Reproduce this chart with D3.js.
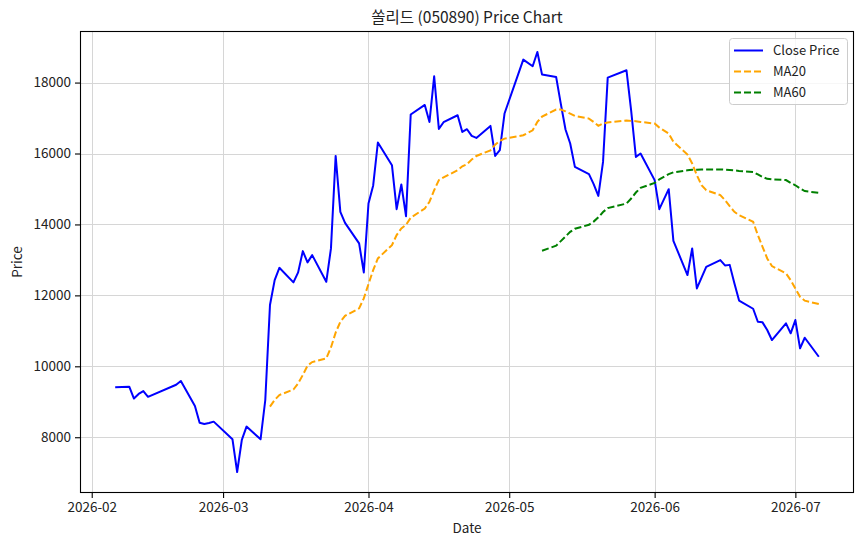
<!DOCTYPE html>
<meta charset="utf-8">
<style>
body { margin: 0; background: white; }
text { font-family: "Noto Sans CJK KR", "Noto Sans", sans-serif; fill: #222; }
.grid line { stroke: #d6d6d6; stroke-width: 1; }
</style>
<body>
<script src="https://d3js.org/d3.v7.min.js"></script>
<script>

// Trading days shown in the chart
const dates = [
  '2026-02-06','2026-02-09','2026-02-10','2026-02-11','2026-02-12','2026-02-13','2026-02-19','2026-02-20',
  '2026-02-23','2026-02-24','2026-02-25','2026-02-26','2026-02-27',
  '2026-03-03','2026-03-04','2026-03-05','2026-03-06','2026-03-09','2026-03-10','2026-03-11','2026-03-12','2026-03-13',
  '2026-03-16','2026-03-17','2026-03-18','2026-03-19','2026-03-20','2026-03-23','2026-03-24','2026-03-25','2026-03-26',
  '2026-03-27','2026-03-30','2026-03-31',
  '2026-04-01','2026-04-02','2026-04-03','2026-04-06','2026-04-07','2026-04-08','2026-04-09','2026-04-10',
  '2026-04-13','2026-04-14','2026-04-15','2026-04-16','2026-04-17','2026-04-20','2026-04-21','2026-04-22',
  '2026-04-23','2026-04-24','2026-04-27','2026-04-28','2026-04-29','2026-04-30',
  '2026-05-04','2026-05-06','2026-05-07','2026-05-08','2026-05-11','2026-05-12','2026-05-13','2026-05-14','2026-05-15',
  '2026-05-18','2026-05-19','2026-05-20','2026-05-21','2026-05-22','2026-05-26','2026-05-27','2026-05-28','2026-05-29',
  '2026-06-01','2026-06-02','2026-06-04','2026-06-05','2026-06-08','2026-06-09','2026-06-10','2026-06-11','2026-06-12',
  '2026-06-15','2026-06-16','2026-06-17','2026-06-18','2026-06-19','2026-06-22','2026-06-23','2026-06-24','2026-06-25',
  '2026-06-26','2026-06-29','2026-06-30',
  '2026-07-01','2026-07-02','2026-07-03','2026-07-06'
]

const closePrice = [
  9410, 9425, 9090, 9220, 9300, 9140, 9480, 9586,
  8880, 8410, 8375, 8400, 8440,
  7944, 7020, 7924, 8300, 7944, 9050, 11727, 12431, 12777,
  12366, 12648, 13248, 12930, 13135, 12383, 13324, 15932, 14355,
  14045, 13465, 12648,
  14592, 15099, 16310, 15670, 14431, 15127, 14234, 17100,
  17369, 16890, 18177, 16693, 16882, 17079, 16608, 16685,
  16496, 16440, 16778, 15932, 16093, 17127,
  18648, 18459, 18862, 18225, 18159, 17400, 16676, 16281, 15623,
  15417, 15135, 14806, 15763, 18141, 18346, 17200, 15904, 16000,
  15250, 14431, 14994, 13538, 12572, 13324, 12197, 12500, 12805,
  12994, 12845, 12860, 12340, 11855, 11623, 11256, 11239, 11023,
  10741, 11211, 10930,
  11304, 10507, 10806, 10270
]

// MA20 starts at the 20th trading day (2026-03-11)
const ma20Values = [
  8862, 9050, 9190,
  9345, 9520, 9755, 10020, 10120, 10225, 10530, 10950, 11256,
  11422, 11635, 11915,
  12320, 12713, 13042, 13417, 13699, 13887, 13990, 14190,
  14450, 14640, 14965, 15250, 15325, 15530, 15640, 15700,
  15830, 15930, 16090, 16250, 16355, 16420,
  16515, 16655, 16890, 17040, 17240, 17240, 17190, 17125, 17060,
  16985, 16890, 16780, 16845, 16875, 16930, 16920, 16910, 16890,
  16845, 16730, 16565, 16330, 15970, 15720, 15390, 15105, 14965,
  14825, 14685, 14515, 14355, 14260, 14075, 13700, 13370, 13040,
  12825, 12620, 12430,
  12195, 11960, 11850, 11755
]

// MA60 starts at the 60th trading day (2026-05-08)
const ma60Values = [
  13260, 13400, 13530, 13660, 13790, 13880,
  13990, 14080, 14200, 14350, 14460, 14590, 14730, 14900, 15030,
  15170, 15270, 15420, 15470, 15525, 15540, 15545, 15550, 15550,
  15550, 15545, 15535, 15525, 15510, 15480, 15410, 15340, 15285,
  15270, 15250, 15170,
  15105, 15015, 14940, 14890
]

const yTicks = [8000, 10000, 12000, 14000, 16000, 18000]

const width = 864
const height = 546
const margin = { top: 31, right: 10, bottom: 53, left: 80 }
const lw = 2
const dashed = '7,3'

const parse = d3.timeParse('%Y-%m-%d')
const days = dates.map(parse)

const closeData = days.map((d, i) => ({ date: d, value: closePrice[i] }))
const ma20Data = ma20Values.map((v, i) => ({ date: days[days.length - ma20Values.length + i], value: v }))
const ma60Data = ma60Values.map((v, i) => ({ date: days[days.length - ma60Values.length + i], value: v }))

// matplotlib-like 5% margins
const xExt = d3.extent(days)
const xPad = (xExt[1] - xExt[0]) * 0.05
const allValues = closePrice.concat(ma20Values, ma60Values)
const yExt = d3.extent(allValues)
const yPad = (yExt[1] - yExt[0]) * 0.05

const x = d3.scaleTime()
  .domain([new Date(+xExt[0] - xPad), new Date(+xExt[1] + xPad)])
  .range([margin.left, width - margin.right])

const y = d3.scaleLinear()
  .domain([yExt[0] - yPad, yExt[1] + yPad])
  .range([height - margin.bottom, margin.top])

const svg = d3.select('body')
  .append('svg')
  .attr('width', width)
  .attr('height', height)

const xTicks = d3.timeMonth.range(new Date(2026, 1, 1), new Date(2026, 6, 2))

// Grid
const grid = svg.append('g').attr('class', 'grid')
grid.selectAll('.vx')
  .data(xTicks)
  .enter()
  .append('line')
  .attr('x1', d => Math.round(x(d)) + 0.5)
  .attr('x2', d => Math.round(x(d)) + 0.5)
  .attr('y1', margin.top)
  .attr('y2', height - margin.bottom)
grid.selectAll('.hy')
  .data(yTicks)
  .enter()
  .append('line')
  .attr('x1', margin.left)
  .attr('x2', width - margin.right)
  .attr('y1', d => Math.round(y(d)) + 0.5)
  .attr('y2', d => Math.round(y(d)) + 0.5)

// Lines
const line = d3.line()
  .x(d => x(d.date))
  .y(d => y(d.value))

svg.append('path')
  .datum(closeData)
  .attr('d', line)
  .attr('fill', 'none')
  .attr('stroke', '#0000ff')
  .attr('stroke-width', lw)
  .attr('stroke-linejoin', 'round')

svg.append('path')
  .datum(ma20Data)
  .attr('d', line)
  .attr('fill', 'none')
  .attr('stroke', '#ffa500')
  .attr('stroke-width', lw)
  .attr('stroke-dasharray', dashed)

svg.append('path')
  .datum(ma60Data)
  .attr('d', line)
  .attr('fill', 'none')
  .attr('stroke', '#008000')
  .attr('stroke-width', lw)
  .attr('stroke-dasharray', dashed)

// Axes
const xAxis = d3.axisBottom(x)
  .tickValues(xTicks)
  .tickFormat(d3.timeFormat('%Y-%m'))
  .tickSizeOuter(0)
  .tickSize(5)
  .tickPadding(4)

const yAxis = d3.axisLeft(y)
  .tickValues(yTicks)
  .tickFormat(d3.format('d'))
  .tickSizeOuter(0)
  .tickSize(5)
  .tickPadding(4)

svg.append('g')
  .attr('transform', `translate(0,${height - margin.bottom})`)
  .call(xAxis)
svg.append('g')
  .attr('transform', `translate(${margin.left},0)`)
  .call(yAxis)

svg.selectAll('.domain').remove()
svg.selectAll('.tick text')
  .attr('font-size', 13.5)
  .attr('fill', '#222')
  .style('font-family', '"Noto Sans CJK KR", sans-serif')
svg.selectAll('.tick line').attr('stroke', '#000').attr('stroke-width', 1.1)

// Frame
svg.append('rect')
  .attr('x', margin.left + 0.5)
  .attr('y', margin.top + 0.5)
  .attr('width', width - margin.left - margin.right - 1)
  .attr('height', height - margin.top - margin.bottom - 1)
  .attr('fill', 'none')
  .attr('stroke', '#000')
  .attr('stroke-width', 1.1)

// Title and labels
svg.append('text')
  .text('쏠리드 (050890) Price Chart')
  .attr('x', (margin.left + width - margin.right) / 2)
  .attr('y', 23)
  .attr('text-anchor', 'middle')
  .attr('font-size', 15.5)

svg.append('text')
  .text('Date')
  .attr('x', (margin.left + width - margin.right) / 2)
  .attr('y', 533)
  .attr('text-anchor', 'middle')
  .attr('font-size', 13.5)

svg.append('text')
  .text('Price')
  .attr('transform', `translate(22,${(margin.top + height - margin.bottom) / 2}) rotate(-90)`)
  .attr('text-anchor', 'middle')
  .attr('font-size', 13.5)

// Legend
const legendItems = [
  { name: 'Close Price', color: '#0000ff', dash: null },
  { name: 'MA20', color: '#ffa500', dash: dashed },
  { name: 'MA60', color: '#008000', dash: dashed }
]

const legend = svg.append('g')
  .attr('transform', 'translate(729,38)')

legend.append('rect')
  .attr('x', 0.5)
  .attr('y', 0.5)
  .attr('width', 118)
  .attr('height', 66)
  .attr('rx', 3)
  .attr('fill', 'white')
  .attr('fill-opacity', 0.8)
  .attr('stroke', '#cccccc')

const rows = legend.selectAll('.row')
  .data(legendItems)
  .enter()
  .append('g')
  .attr('transform', (d, i) => `translate(0,${12.5 + i * 21})`)

rows.append('line')
  .attr('x1', 5)
  .attr('x2', 34)
  .attr('stroke', d => d.color)
  .attr('stroke-width', lw)
  .attr('stroke-dasharray', d => d.dash)

rows.append('text')
  .text(d => d.name)
  .attr('x', 44)
  .attr('dy', '0.35em')
  .attr('font-size', 13)

</script>
</body>
